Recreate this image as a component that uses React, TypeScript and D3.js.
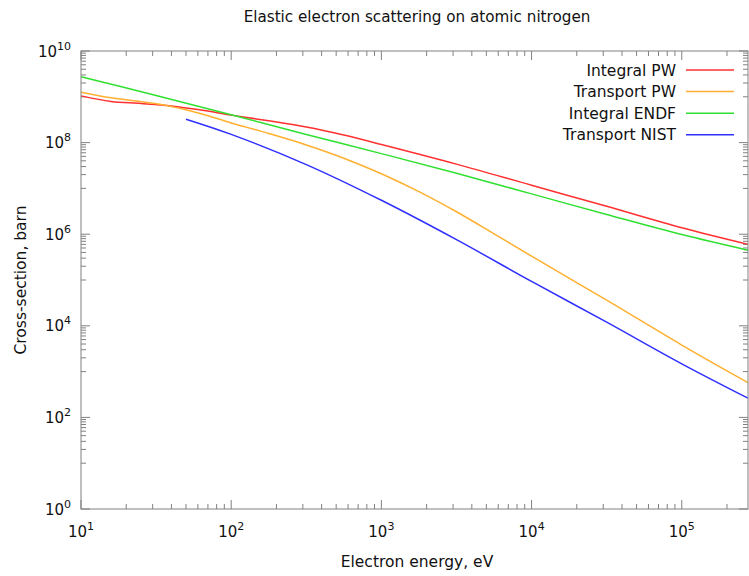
import React from "react";
import * as d3 from "d3";

// ---- data ----
const xMin = 10;
const xMax = 2.76e5;
const yMin = 1;
const yMax = 1e10;

const xMajorExps = [1, 2, 3, 4, 5];
const yLabelExps = [0, 2, 4, 6, 8, 10];

const integralPwE = [10, 15.85, 25.12, 39.81, 63.1, 100, 177.8, 316.2, 562.3, 1000, 3162, 10000, 31623, 100000, 276000];
const integralPwS = [1.047e9, 7.94e8, 7.16e8, 6.31e8, 5.13e8, 3.98e8, 2.99e8, 2.19e8, 1.46e8, 9.1e7, 3.39e7, 1.17e7, 4.07e6, 1.38e6, 6.0e5];

const transportPwE = [10, 15.85, 25.12, 39.81, 63.1, 100, 177.8, 316.2, 562.3, 1000, 1778, 3162, 5623, 10000, 31623, 100000, 276000];
const transportPwS = [1.26e9, 9.5e8, 7.8e8, 6.17e8, 4.27e8, 2.69e8, 1.58e8, 8.9e7, 4.57e7, 2.09e7, 8.5e6, 3.09e6, 1.02e6, 3.31e5, 3.63e4, 3.8e3, 575];

const integralEndfE = [10, 31.62, 100, 316.2, 1000, 3162, 10000, 31623, 100000, 276000];
const integralEndfS = [2.75e9, 1.07e9, 4.07e8, 1.51e8, 5.75e7, 2.14e7, 7.6e6, 2.69e6, 9.8e5, 4.47e5];

const transportNistE = [50, 100, 316.2, 1000, 3162, 10000, 31623, 100000, 276000];
const transportNistS = [3.24e8, 1.51e8, 3.31e7, 5.5e6, 7.6e5, 9.3e4, 1.2e4, 1.48e3, 263];

const seriesNames = ["Integral PW", "Transport PW", "Integral ENDF", "Transport NIST"];
const seriesColors = ["#ff3030", "#ffb030", "#30e030", "#3030ff"];
const seriesE = [integralPwE, transportPwE, integralEndfE, transportNistE];
const seriesS = [integralPwS, transportPwS, integralEndfS, transportNistS];

const title = "Elastic electron scattering on atomic nitrogen";
const xTitle = "Electron energy, eV";
const yTitle = "Cross-section, barn";

// ---- layout ----
const W = 749;
const H = 576;
const left = 81;
const right = 748;
const top = 51;
const bottom = 509;
const FONT = "'DejaVu Sans', sans-serif";
const AXIS = "#808080";
const TXT = "#111";

export default function App() {
  const x = d3.scaleLog().domain([xMin, xMax]).range([left, right]);
  const y = d3.scaleLog().domain([yMin, yMax]).range([bottom, top]);

  const line = d3
    .line<[number, number]>()
    .x((d) => x(d[0]))
    .y((d) => y(d[1]))
    .curve(d3.curveCatmullRom.alpha(0.5));

  const xMajor = xMajorExps.map((e) => Math.pow(10, e));
  const xMinor: number[] = [];
  for (let e = 1; e <= 5; e++) {
    for (let m = 2; m <= 9; m++) {
      const v = m * Math.pow(10, e);
      if (v <= xMax) xMinor.push(v);
    }
  }
  const yMajor = yLabelExps.map((e) => Math.pow(10, e));
  const yMinor: number[] = [];
  for (let e = 0; e < 10; e += 2) {
    for (let m = 1; m <= 9; m++) yMinor.push(m * Math.pow(10, e + 1));
  }

  const MAJ = 9;
  const MIN = 5;

  return (
    <svg width={W} height={H} style={{ position: "absolute", left: 0, top: 0, background: "#fff" }} fontFamily={FONT}>
      <rect x={0} y={0} width={W} height={H} fill="#fff" />
      <text x={417} y={22} fontSize={15.2} textAnchor="middle" fill={TXT}>
        {title}
      </text>

      <g stroke={AXIS} strokeWidth={1}>
        {xMajor.map((v, i) => (
          <g key={"xM" + i}>
            <line x1={x(v)} x2={x(v)} y1={bottom} y2={bottom - MAJ} />
            <line x1={x(v)} x2={x(v)} y1={top} y2={top + MAJ} />
          </g>
        ))}
        {xMinor.map((v, i) => (
          <g key={"xm" + i}>
            <line x1={x(v)} x2={x(v)} y1={bottom} y2={bottom - MIN} />
            <line x1={x(v)} x2={x(v)} y1={top} y2={top + MIN} />
          </g>
        ))}
        {yMajor.map((v, i) => (
          <g key={"yM" + i}>
            <line x1={left} x2={left + MAJ} y1={y(v)} y2={y(v)} />
            <line x1={right} x2={right - MAJ} y1={y(v)} y2={y(v)} />
          </g>
        ))}
        {yMinor.map((v, i) => (
          <g key={"ym" + i}>
            <line x1={left} x2={left + MIN} y1={y(v)} y2={y(v)} />
            <line x1={right} x2={right - MIN} y1={y(v)} y2={y(v)} />
          </g>
        ))}
      </g>

      <g fill="none" strokeWidth={1.5}>
        {seriesNames.map((n, i) => (
          <path
            key={n}
            d={line(seriesE[i].map((e, j) => [e, seriesS[i][j]] as [number, number])) || ""}
            stroke={seriesColors[i]}
          />
        ))}
      </g>

      <rect x={left} y={top} width={right - left} height={bottom - top} fill="none" stroke={AXIS} strokeWidth={1} />

      <g fontSize={15} fill={TXT}>
        {xMajorExps.map((e) => (
          <text key={"xl" + e} x={x(Math.pow(10, e))} y={537} textAnchor="middle">
            10
            <tspan dy={-7} fontSize={11}>
              {e}
            </tspan>
          </text>
        ))}
        {yLabelExps.map((e) => (
          <text key={"yl" + e} x={71} y={y(Math.pow(10, e)) + 5.5} textAnchor="end">
            10
            <tspan dy={-7} fontSize={11}>
              {e}
            </tspan>
          </text>
        ))}
      </g>

      <text x={417} y={567} fontSize={15.5} textAnchor="middle" fill={TXT}>
        {xTitle}
      </text>
      <text transform={`translate(26,280) rotate(-90)`} fontSize={15.5} textAnchor="middle" fill={TXT}>
        {yTitle}
      </text>

      <g fontSize={15.5} fill={TXT}>
        {seriesNames.map((n, i) => {
          const ly = 70 + i * 21.6;
          return (
            <g key={"lg" + n}>
              <text x={676} y={ly + 5.5} textAnchor="end">
                {n}
              </text>
              <line x1={686} x2={734} y1={ly} y2={ly} stroke={seriesColors[i]} strokeWidth={1.5} />
            </g>
          );
        })}
      </g>
    </svg>
  );
}
